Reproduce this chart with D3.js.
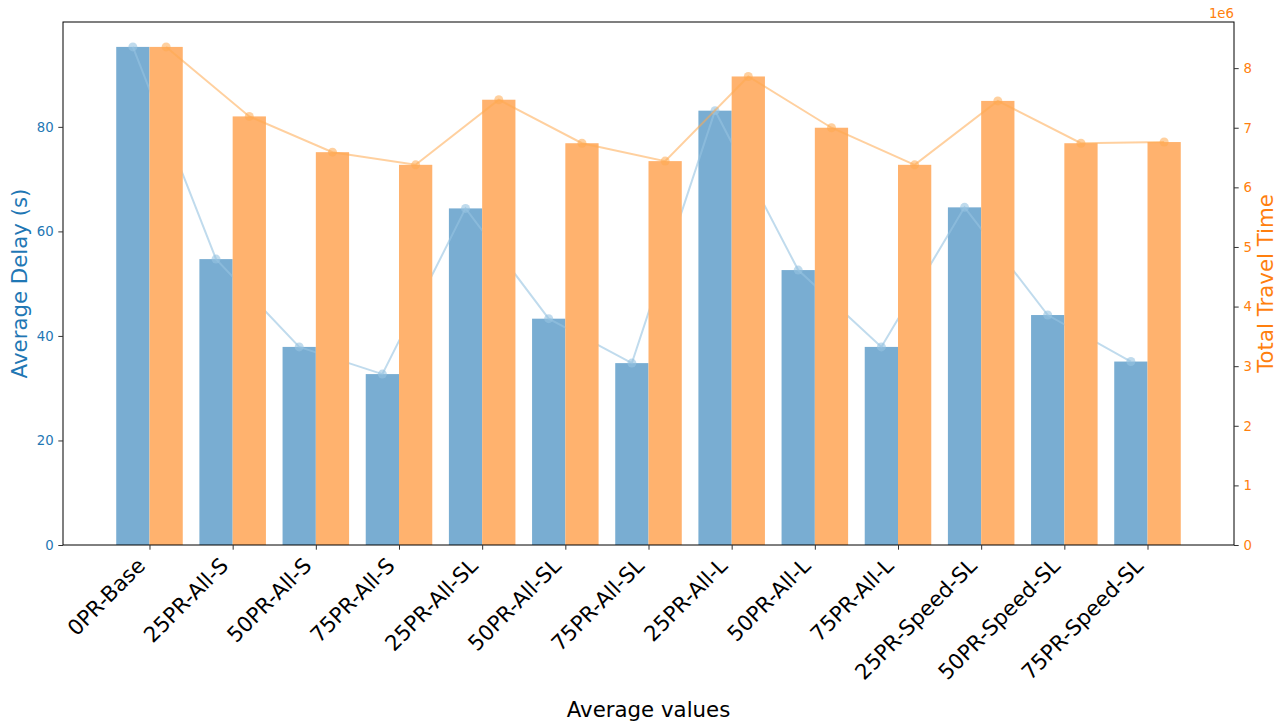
<!DOCTYPE html>
<html>
<head>
<meta charset="utf-8">
<script src="https://cdn.jsdelivr.net/npm/d3@7"></script>
<style>
  html, body { margin: 0; padding: 0; background: #fff; }
  svg { display: block; font-family: "DejaVu Sans", sans-serif; }
</style>
</head>
<body>
<svg id="chart" width="1285" height="726"></svg>
<script>
// Scenario names along the x axis
const categories = [
  "0PR-Base", "25PR-All-S", "50PR-All-S", "75PR-All-S",
  "25PR-All-SL", "50PR-All-SL", "75PR-All-SL",
  "25PR-All-L", "50PR-All-L", "75PR-All-L",
  "25PR-Speed-SL", "50PR-Speed-SL", "75PR-Speed-SL"
];

// Average delay per scenario, seconds
const avgDelay = [95.3, 54.7, 37.9, 32.7, 64.4, 43.3, 34.8, 83.1, 52.6, 37.9, 64.6, 44.0, 35.1];

// Total travel time per scenario
const totalTravel = [8356000, 7190000, 6590000, 6378000, 7470000, 6740000, 6440000,
                     7860000, 7000000, 6378000, 7450000, 6740000, 6760000];

const leftTicks = [0, 20, 40, 60, 80];
const rightTicks = [0, 1, 2, 3, 4, 5, 6, 7, 8];

const svg = d3.select("#chart");
const margin = { left: 63, right: 1234, top: 22, bottom: 545 };
const barW = 0.4;

const blueText = "#1f77b4", orangeText = "#ff7f0e";
const blueBar = "#79add2", orangeBar = "#ffb26e";
const blueLine = "rgba(150,195,225,0.6)", orangeLine = "rgba(255,170,80,0.55)";

// x: continuous index scale so bars and line points sit at fractional offsets
const pad = (categories.length - 1 + 2 * barW) * 0.05;
const x = d3.scaleLinear()
  .domain([-barW - pad, categories.length - 1 + barW + pad])
  .range([margin.left, margin.right]);

const yL = d3.scaleLinear()
  .domain([0, d3.max(avgDelay) * 1.05])
  .range([margin.bottom, margin.top]);

const yR = d3.scaleLinear()
  .domain([0, d3.max(totalTravel) * 1.05 / 1e6])
  .range([margin.bottom, margin.top]);

const plot = svg.append("g");

// Delay bars (left of each tick)
plot.selectAll("rect.delay").data(avgDelay).join("rect")
  .attr("class", "delay")
  .attr("x", (d, i) => x(i - barW))
  .attr("width", (d, i) => x(i) - x(i - barW))
  .attr("y", d => yL(d))
  .attr("height", d => yL(0) - yL(d))
  .attr("fill", blueBar);

// Delay trend line
const delayLine = d3.line().x((d, i) => x(i - barW / 2)).y(d => yL(d));
plot.append("path").datum(avgDelay)
  .attr("d", delayLine)
  .attr("fill", "none")
  .attr("stroke", blueLine)
  .attr("stroke-width", 2);
plot.selectAll("circle.delay").data(avgDelay).join("circle")
  .attr("class", "delay")
  .attr("cx", (d, i) => x(i - barW / 2))
  .attr("cy", d => yL(d))
  .attr("r", 4.5)
  .attr("fill", blueLine);

// Travel time bars (right of each tick)
plot.selectAll("rect.travel").data(totalTravel).join("rect")
  .attr("class", "travel")
  .attr("x", (d, i) => x(i))
  .attr("width", (d, i) => x(i + barW) - x(i))
  .attr("y", d => yR(d / 1e6))
  .attr("height", d => yR(0) - yR(d / 1e6))
  .attr("fill", orangeBar);

// Travel time trend line
const travelLine = d3.line().x((d, i) => x(i + barW / 2)).y(d => yR(d / 1e6));
plot.append("path").datum(totalTravel)
  .attr("d", travelLine)
  .attr("fill", "none")
  .attr("stroke", orangeLine)
  .attr("stroke-width", 2);
plot.selectAll("circle.travel").data(totalTravel).join("circle")
  .attr("class", "travel")
  .attr("cx", (d, i) => x(i + barW / 2))
  .attr("cy", d => yR(d / 1e6))
  .attr("r", 4.5)
  .attr("fill", orangeLine);

// Frame
svg.append("rect")
  .attr("x", margin.left).attr("y", margin.top)
  .attr("width", margin.right - margin.left)
  .attr("height", margin.bottom - margin.top)
  .attr("fill", "none").attr("stroke", "#000").attr("stroke-width", 1);

function styleAxis(g, color) {
  g.select(".domain").remove();
  g.selectAll(".tick line").attr("stroke", "#333");
  g.selectAll(".tick text").attr("fill", color).style("font-size", "13.3px")
    .style("font-family", "DejaVu Sans, sans-serif");
}

// Left axis
svg.append("g")
  .attr("transform", `translate(${margin.left},0)`)
  .call(d3.axisLeft(yL).tickValues(leftTicks).tickSize(4.7).tickPadding(4.7).tickFormat(d3.format("d")))
  .call(g => styleAxis(g, blueText));

// Right axis
svg.append("g")
  .attr("transform", `translate(${margin.right},0)`)
  .call(d3.axisRight(yR).tickValues(rightTicks).tickSize(4.7).tickPadding(4.7).tickFormat(d3.format("d")))
  .call(g => styleAxis(g, orangeText));

// Bottom axis: tick marks from the axis, category names rotated 45° below
svg.append("g")
  .attr("transform", `translate(0,${margin.bottom})`)
  .call(d3.axisBottom(x).tickValues(d3.range(categories.length)).tickSize(4.7).tickFormat(() => ""))
  .call(g => styleAxis(g, "#000"));

const catLabels = svg.append("g");
categories.forEach((name, i) => {
  catLabels.append("g")
    .attr("transform", `translate(${x(i) - 3},${margin.bottom + 22}) rotate(-45)`)
    .append("text")
    .attr("text-anchor", "end")
    .attr("fill", "#000")
    .style("font-size", "21.3px")
    .text(name);
});

// Offset label for the right axis
svg.append("text")
  .attr("x", margin.right).attr("y", 18)
  .attr("text-anchor", "end")
  .attr("fill", orangeText)
  .style("font-size", "13.3px")
  .text("1e6");

// Axis titles
svg.append("text")
  .attr("x", (margin.left + margin.right) / 2).attr("y", 717)
  .attr("text-anchor", "middle")
  .style("font-size", "21.3px")
  .text("Average values");

svg.append("text")
  .attr("transform", `translate(27,${(margin.top + margin.bottom) / 2}) rotate(-90)`)
  .attr("text-anchor", "middle")
  .attr("fill", blueText)
  .style("font-size", "21.3px")
  .text("Average Delay (s)");

svg.append("text")
  .attr("transform", `translate(1273,${(margin.top + margin.bottom) / 2}) rotate(-90)`)
  .attr("text-anchor", "middle")
  .attr("fill", orangeText)
  .style("font-size", "21.3px")
  .text("Total Travel Time");
</script>
</body>
</html>
